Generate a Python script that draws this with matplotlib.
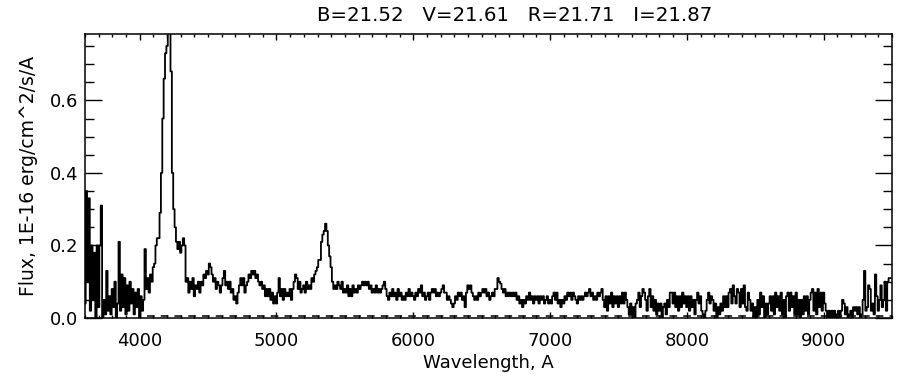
import numpy as np
import matplotlib
matplotlib.use("Agg")
import matplotlib.pyplot as plt
from matplotlib.ticker import MultipleLocator, FormatStrFormatter

# ---- data, 10 A sampling starting at 3600 A ----
wave_start = 3600
wave_step = 10
flux = [
    0.04, 0.35, 0.10, 0.33, 0.02, 0.20, 0.05, 0.18, 0.00, 0.20,   # 3600
    0.03, 0.20, 0.31, 0.00, 0.05, 0.01, 0.13, 0.02, 0.06, 0.01,   # 3700
    0.08, 0.03, 0.10, 0.00, 0.04, 0.21, 0.02, 0.12, 0.03, 0.11,   # 3800
    0.01, 0.09, 0.02, 0.10, 0.04, 0.08, 0.01, 0.07, 0.03, 0.08,   # 3900
    0.00, 0.06, 0.02, 0.05, 0.19, 0.08, 0.11, 0.07, 0.12, 0.10,   # 4000
    0.14, 0.15, 0.20, 0.22, 0.22, 0.29, 0.40, 0.55, 0.66, 0.73,   # 4100
    0.75, 0.80, 0.80, 0.68, 0.40, 0.30, 0.25, 0.21, 0.19, 0.21,   # 4200
    0.18, 0.20, 0.22, 0.20, 0.10, 0.11, 0.07, 0.10, 0.08, 0.11,   # 4300
    0.06, 0.09, 0.08, 0.10, 0.07, 0.10, 0.09, 0.12, 0.11, 0.13,   # 4400
    0.12, 0.15, 0.14, 0.12, 0.10, 0.11, 0.08, 0.10, 0.09, 0.07,   # 4500
    0.09, 0.11, 0.13, 0.09, 0.10, 0.08, 0.10, 0.07, 0.08, 0.05,   # 4600
    0.06, 0.04, 0.07, 0.09, 0.11, 0.09, 0.11, 0.07, 0.09, 0.10,   # 4700
    0.12, 0.11, 0.13, 0.12, 0.13, 0.11, 0.12, 0.10, 0.09, 0.10,   # 4800
    0.08, 0.09, 0.06, 0.08, 0.06, 0.08, 0.05, 0.07, 0.04, 0.06,   # 4900
    0.04, 0.07, 0.11, 0.06, 0.08, 0.05, 0.08, 0.06, 0.07, 0.06,   # 5000
    0.08, 0.05, 0.08, 0.10, 0.12, 0.11, 0.08, 0.10, 0.07, 0.08,   # 5100
    0.09, 0.07, 0.10, 0.08, 0.09, 0.08, 0.11, 0.10, 0.12, 0.13,   # 5200
    0.14, 0.16, 0.16, 0.21, 0.23, 0.24, 0.26, 0.24, 0.20, 0.17,   # 5300
    0.14, 0.10, 0.08, 0.09, 0.08, 0.10, 0.09, 0.08, 0.10, 0.07,   # 5400
    0.08, 0.07, 0.09, 0.06, 0.08, 0.06, 0.09, 0.07, 0.08, 0.07,   # 5500
    0.09, 0.08, 0.09, 0.10, 0.09, 0.10, 0.09, 0.10, 0.08, 0.09,   # 5600
    0.07, 0.08, 0.07, 0.09, 0.07, 0.08, 0.07, 0.08, 0.09, 0.10,   # 5700
    0.08, 0.06, 0.05, 0.07, 0.06, 0.08, 0.06, 0.07, 0.05, 0.08,   # 5800
    0.06, 0.07, 0.05, 0.06, 0.05, 0.07, 0.06, 0.08, 0.06, 0.07,   # 5900
    0.06, 0.05, 0.07, 0.06, 0.08, 0.07, 0.09, 0.06, 0.07, 0.05,   # 6000
    0.06, 0.07, 0.05, 0.07, 0.08, 0.07, 0.08, 0.06, 0.07, 0.06,   # 6100
    0.07, 0.08, 0.09, 0.07, 0.07, 0.05, 0.06, 0.05, 0.04, 0.03,   # 6200
    0.04, 0.06, 0.05, 0.07, 0.06, 0.07, 0.05, 0.06, 0.03, 0.07,   # 6300
    0.09, 0.08, 0.09, 0.07, 0.06, 0.05, 0.06, 0.05, 0.07, 0.06,   # 6400
    0.07, 0.08, 0.07, 0.08, 0.06, 0.07, 0.05, 0.06, 0.07, 0.06,   # 6500
    0.08, 0.08, 0.11, 0.10, 0.095, 0.08, 0.07, 0.08, 0.06, 0.07,  # 6600
    0.06, 0.07, 0.06, 0.07, 0.06, 0.07, 0.05, 0.06, 0.04, 0.05,   # 6700
    0.03, 0.05, 0.04, 0.06, 0.05, 0.07, 0.05, 0.06, 0.04, 0.06,   # 6800
    0.05, 0.06, 0.04, 0.06, 0.05, 0.06, 0.04, 0.05, 0.06, 0.04,   # 6900
    0.05, 0.04, 0.06, 0.07, 0.05, 0.07, 0.04, 0.05, 0.03, 0.05,   # 7000
    0.04, 0.06, 0.05, 0.07, 0.06, 0.07, 0.05, 0.07, 0.06, 0.05,   # 7100
    0.04, 0.06, 0.05, 0.06, 0.05, 0.06, 0.07, 0.06, 0.07, 0.08,   # 7200
    0.06, 0.07, 0.05, 0.06, 0.05, 0.07, 0.06, 0.07, 0.08, 0.05,   # 7300
    0.03, 0.06, 0.02, 0.06, 0.04, 0.07, 0.03, 0.06, 0.04, 0.06,   # 7400
    0.03, 0.06, 0.04, 0.07, 0.04, 0.07, 0.05, 0.03, 0.01, 0.04,   # 7500
    0.01, 0.03, 0.00, 0.04, 0.05, 0.07, 0.03, 0.06, 0.08, 0.07,   # 7600
    0.05, 0.02, 0.06, 0.08, 0.03, 0.06, 0.02, 0.05, 0.01, 0.04,   # 7700
    0.02, 0.04, 0.00, 0.03, 0.04, 0.01, 0.05, 0.03, 0.07, 0.07,   # 7800
    0.04, 0.07, 0.03, 0.06, 0.02, 0.06, 0.03, 0.07, 0.04, 0.06,   # 7900
    0.03, 0.06, 0.02, 0.06, 0.03, 0.05, 0.01, 0.05, 0.07, 0.04,   # 8000
    0.06, 0.02, 0.01, 0.00, 0.02, 0.05, 0.07, 0.04, 0.06, 0.05,   # 8100
    0.02, 0.04, 0.00, 0.03, 0.01, 0.04, 0.02, 0.06, 0.03, 0.06,   # 8200
    0.03, 0.07, 0.08, 0.04, 0.09, 0.06, 0.04, 0.08, 0.07, 0.03,   # 8300
    0.08, 0.04, 0.09, 0.03, 0.02, 0.07, 0.05, 0.02, 0.04, 0.00,   # 8400
    0.03, 0.00, 0.05, 0.01, 0.07, 0.03, 0.06, 0.00, 0.04, 0.01,   # 8500
    0.04, 0.06, 0.02, 0.06, 0.01, 0.07, 0.03, 0.06, 0.02, 0.07,   # 8600
    0.01, 0.05, 0.00, 0.06, 0.07, 0.02, 0.07, 0.03, 0.06, 0.01,   # 8700
    0.07, 0.01, 0.05, 0.00, 0.05, 0.01, 0.06, 0.02, 0.06, 0.01,   # 8800
    0.05, 0.07, 0.08, 0.02, 0.07, 0.01, 0.08, 0.03, 0.07, 0.02,   # 8900
    0.07, 0.04, 0.02, 0.00, 0.02, 0.00, 0.02, 0.00, 0.02, 0.00,   # 9000
    0.01, 0.02, 0.00, 0.02, 0.05, 0.04, 0.01, 0.03, 0.00, 0.01,   # 9100
    0.02, 0.00, 0.03, 0.02, 0.03, 0.01, 0.03, 0.00, 0.01, 0.05,   # 9200
    0.13, 0.02, 0.03, 0.09, 0.08, 0.02, 0.04, 0.01, 0.12, 0.06,   # 9300
    0.02, 0.05, 0.09, 0.03, 0.05, 0.10, 0.02, 0.10, 0.11, 0.11,   # 9400
]
sky_level = 0.006
sky_start = 4050

title = "B=21.52   V=21.61   R=21.71   I=21.87"
xlabel = "Wavelength, A"
ylabel = "Flux, 1E-16 erg/cm^2/s/A"
xlim = (3600, 9500)
ylim = (0.0, 0.783)

wave = wave_start + wave_step * np.arange(len(flux))

# ---- figure ----
W, H = 898, 374
fig = plt.figure(figsize=(W / 100, H / 100), dpi=100)
ax = fig.add_axes([85 / W, 1 - 318 / H, (892 - 85) / W, (318 - 34) / H])

ax.plot(wave, flux, drawstyle="steps-mid", color="black", lw=1.3)
ax.hlines(sky_level, sky_start, xlim[1], colors="black", lw=1.1,
          linestyles=(0, (5, 4)))

ax.set_xlim(*xlim)
ax.set_ylim(*ylim)

ax.xaxis.set_major_locator(MultipleLocator(1000))
ax.xaxis.set_minor_locator(MultipleLocator(100))
ax.yaxis.set_major_locator(MultipleLocator(0.2))
ax.yaxis.set_minor_locator(MultipleLocator(0.05))
ax.yaxis.set_major_formatter(FormatStrFormatter("%.1f"))

ax.tick_params(axis="both", which="both", direction="in", top=True, right=True,
               width=1.0, colors="black")
ax.tick_params(axis="x", which="major", length=4.3, pad=10, labelsize=13)
ax.tick_params(axis="x", which="minor", length=2.2)
ax.tick_params(axis="y", which="major", length=12, pad=5, labelsize=13)
ax.tick_params(axis="y", which="minor", length=6.5)
for s in ax.spines.values():
    s.set_linewidth(1.1)

ax.set_title(title, fontsize=14.2, pad=9, x=0.533)
ax.set_xlabel(xlabel, fontsize=13, labelpad=3)
ax.set_ylabel(ylabel, fontsize=13.5, labelpad=8)

fig.savefig("out.png", dpi=100)
